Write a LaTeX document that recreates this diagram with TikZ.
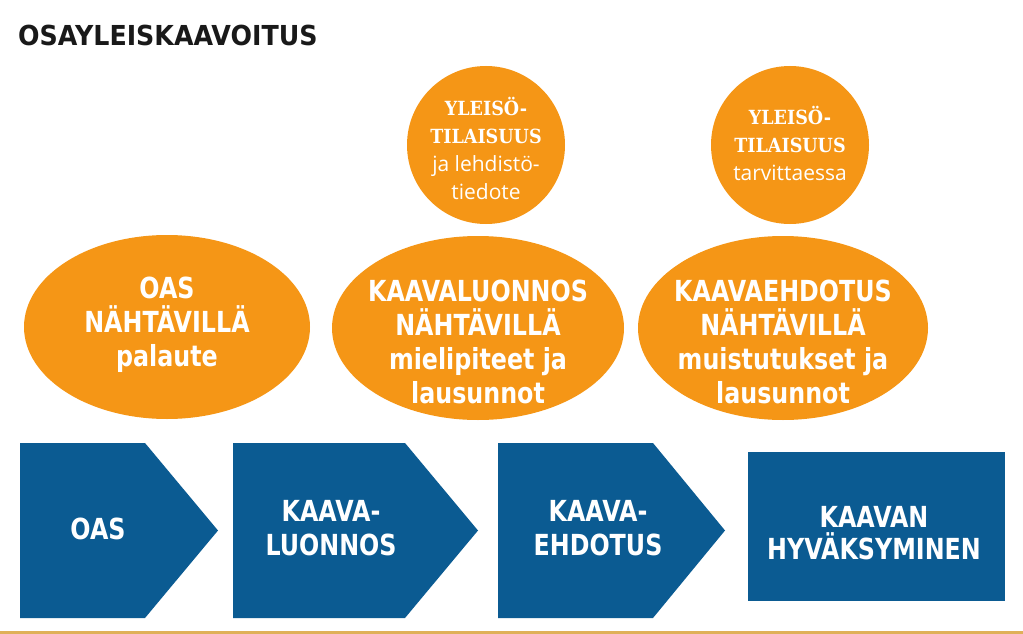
\documentclass[tikz,border=0pt]{standalone}
\usepackage{fontspec}
\setmainfont{Open Sans}
\newfontfamily\otsikkofont{DejaVu Sans}[FakeStretch=0.92]
\newfontfamily\laatikkofont{DejaVu Sans}[FakeStretch=0.82]
\newfontfamily\palloFont{DejaVu Serif}[FakeStretch=0.9]
\usetikzlibrary{shapes.geometric,positioning}

\definecolor{oranssi}{RGB}{245,150,22}
\definecolor{sininen}{RGB}{11,91,146}
\definecolor{kulta}{RGB}{224,176,88}

\begin{document}
\begin{tikzpicture}[x=1pt,y=-1pt,
		soikio/.style={ellipse, fill=oranssi, draw=none, inner sep=0pt},
		pallo/.style={circle, fill=oranssi, draw=none, inner sep=0pt, minimum size=158pt},
		palloteksti/.style={text=white, align=center, inner sep=0pt,
			font=\fontsize{21}{28}\selectfont},
		soikioteksti/.style={text=white, align=center, inner sep=0pt,
			font=\laatikkofont\bfseries\fontsize{29}{34}\selectfont},
		vaihe/.style={fill=sininen},
		vaiheteksti/.style={text=white, align=center, inner sep=0pt,
			font=\laatikkofont\bfseries\fontsize{29}{34}\selectfont}
			]
	\useasboundingbox (0,0) rectangle (1023,634);

	\node[anchor=base west, inner sep=0pt, text={black!90},
		font=\otsikkofont\bfseries\fontsize{27.5}{30}\selectfont] (otsikko) at (18,46) {OSAYLEISKAAVOITUS};

	% tilaisuudet
	\node[pallo] (lehdisto) at (486,145) {};
	\node[pallo] (tarvittaessa) at (790,145) {};
	\node[palloteksti] (lehdistoTeksti) at (486,148) {{\palloFont\bfseries\fontsize{19.5}{28}\selectfont YLEISÖ-}\\
		{\palloFont\bfseries\fontsize{19.5}{28}\selectfont TILAISUUS}\\ja lehdistö-\\tiedote};
	\node[palloteksti] (tarvittaessaTeksti) at (790,143) {{\palloFont\bfseries\fontsize{19.5}{28}\selectfont YLEISÖ-}\\
		{\palloFont\bfseries\fontsize{19.5}{28}\selectfont TILAISUUS}\\tarvittaessa};

	% nahtavillaolot
	\node[soikio, minimum width=286pt, minimum height=184pt] (oasSoikio) at (167,327) {};
	\node[soikio, minimum width=292pt, minimum height=184pt] (luonnosSoikio) at (478,328) {};
	\node[soikio, minimum width=290pt, minimum height=184pt] (ehdotusSoikio) at (783,328) {};
	\node[soikioteksti] (oasTeksti) at (167,325) {OAS\\NÄHTÄVILLÄ\\palaute};
	\node[soikioteksti] (luonnosTeksti) at (478,342) {KAAVALUONNOS\\NÄHTÄVILLÄ\\mielipiteet ja\\lausunnot};
	\node[soikioteksti] (ehdotusTeksti) at (783,342) {KAAVAEHDOTUS\\NÄHTÄVILLÄ\\muistutukset ja\\lausunnot};

	% vaiheet
	\fill[vaihe] (20,443) -- (145,443) -- (218,530.5) -- (145,618) -- (20,618) -- cycle;
	\fill[vaihe] (233,443) -- (405,443) -- (478,530.5) -- (405,618) -- (233,618) -- cycle;
	\fill[vaihe] (498,443) -- (653,443) -- (725,530.5) -- (653,618) -- (498,618) -- cycle;
	\fill[vaihe] (748,452) rectangle (1005,601);
	\node[vaiheteksti] (oasVaihe) at (98,529) {OAS};
	\node[vaiheteksti] (luonnosVaihe) at (331,528) {KAAVA-\\LUONNOS};
	\node[vaiheteksti] (ehdotusVaihe) at (598,528) {KAAVA-\\EHDOTUS};
	\node[vaiheteksti, font=\laatikkofont\bfseries\fontsize{29}{32}\selectfont] (hyvaksyminen) at (874,533) {KAAVAN\\HYVÄKSYMINEN};

	\fill[kulta] (0,631) rectangle (1023,634);
\end{tikzpicture}
\end{document}
